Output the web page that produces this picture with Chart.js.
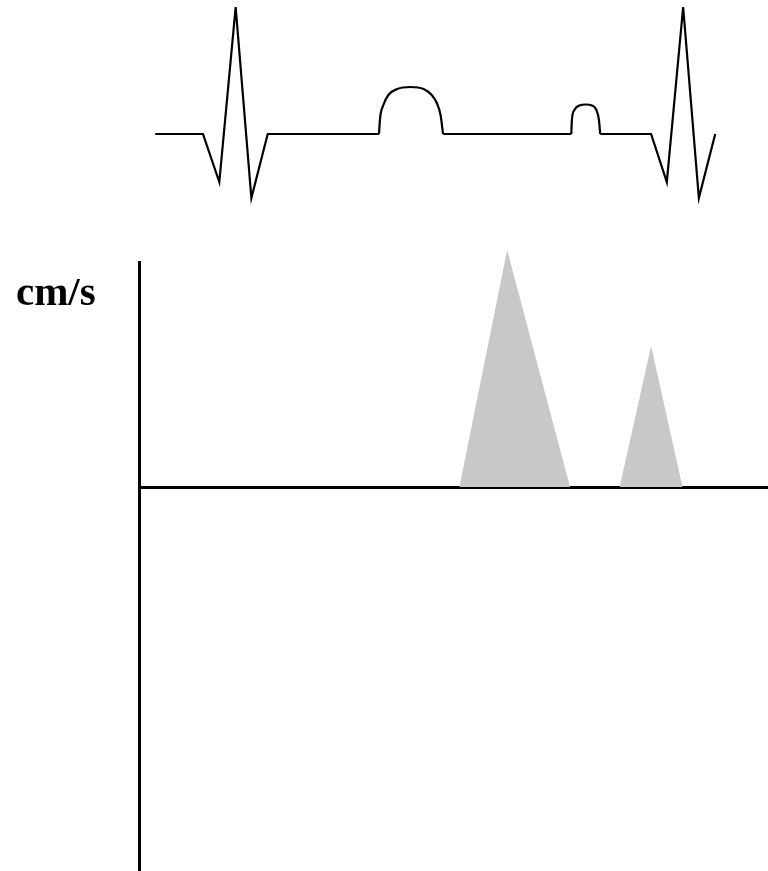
<!DOCTYPE html>
<html>
<head>
<meta charset="utf-8">
<title>ECG and mitral inflow</title>
<script src="https://cdn.jsdelivr.net/npm/chart.js@4"></script>
<style>
    html, body { margin: 0; padding: 0; background: #ffffff; }
    #dopplerChart { display: block; }
</style>
</head>
<body>
<canvas id="dopplerChart" width="768" height="871"></canvas>
<script>
// ECG trace (time in ms, voltage in mV); null marks where the rounded waves take over
const ecgTimes  = [25, 101, 127, 153, 178, 204, 381, 432, 483, 687, 710, 733, 814, 839, 865, 890, 916];
const ecgValues = [0, 0, -0.48, 1.27, -0.64, 0, 0, null, 0, 0, null, 0, 0, -0.48, 1.27, -0.64, 0];

// T wave (rounded)
const tWaveTimes  = [381, 383, 388, 396, 410, 431, 452, 465, 473, 479, 483];
const tWaveValues = [0, 0.17, 0.29, 0.39, 0.45, 0.47, 0.45, 0.39, 0.31, 0.19, 0];

// P wave (rounded)
const pWaveTimes  = [687, 688, 692, 700, 710, 720, 727, 731, 733];
const pWaveValues = [0, 0.14, 0.24, 0.285, 0.295, 0.285, 0.24, 0.14, 0];

// Doppler inflow (velocity in cm/s): E wave and A wave
const eWaveTimes      = [509, 585, 685];
const eWaveVelocities = [0, 79, 0];
const aWaveTimes      = [764, 814, 864];
const aWaveVelocities = [0, 47, 0];

const velocityUnit = 'cm/s';

function toPoints(xs, ys) {
    return xs.map((x, i) => ({ x: x, y: ys[i] }));
}

// Draws the unit label next to the velocity axis
const unitLabelPlugin = {
    id: 'unitLabel',
    afterDraw(chart) {
        const scale = chart.scales.vel;
        const ctx = chart.ctx;
        ctx.save();
        ctx.font = 'bold 41px "Liberation Serif", "Times New Roman", serif';
        ctx.fillStyle = '#000000';
        ctx.textBaseline = 'alphabetic';
        ctx.textAlign = 'left';
        ctx.fillText(velocityUnit, 16, scale.top + 43);
        ctx.restore();
    }
};

const traceStyle = {
    borderColor: '#000000',
    borderWidth: 2.2,
    pointRadius: 0,
    fill: false,
    yAxisID: 'ecg',
    clip: false
};

const waveFill = {
    borderWidth: 0,
    borderColor: 'rgba(0,0,0,0)',
    backgroundColor: '#c8c8c8',
    pointRadius: 0,
    fill: 'origin',
    tension: 0,
    yAxisID: 'vel',
    clip: false
};

new Chart(document.getElementById('dopplerChart'), {
    type: 'line',
    data: {
        datasets: [
            Object.assign({ label: 'ECG', data: toPoints(ecgTimes, ecgValues), tension: 0 }, traceStyle),
            Object.assign({ label: 'T', data: toPoints(tWaveTimes, tWaveValues), cubicInterpolationMode: 'monotone' }, traceStyle),
            Object.assign({ label: 'P', data: toPoints(pWaveTimes, pWaveValues), cubicInterpolationMode: 'monotone' }, traceStyle),
            Object.assign({ label: 'E', data: toPoints(eWaveTimes, eWaveVelocities) }, waveFill),
            Object.assign({ label: 'A', data: toPoints(aWaveTimes, aWaveVelocities) }, waveFill)
        ]
    },
    options: {
        responsive: false,
        animation: false,
        events: [],
        layout: {
            padding: { left: 131.5, right: 0, top: 0, bottom: 0 }
        },
        plugins: {
            legend: { display: false },
            tooltip: { enabled: false }
        },
        scales: {
            x: {
                type: 'linear',
                min: 0,
                max: 1000,
                display: false
            },
            ecg: {
                type: 'linear',
                position: 'left',
                stack: 'trace',
                stackWeight: 262,
                weight: 1,
                min: -1.28,
                max: 1.34,
                grid: { display: false },
                border: { display: false },
                ticks: { display: false }
            },
            vel: {
                type: 'linear',
                position: 'left',
                stack: 'trace',
                stackWeight: 609,
                weight: 0,
                min: -128,
                max: 75,
                ticks: { display: false, stepSize: 25 },
                grid: {
                    drawTicks: false,
                    lineWidth: 3,
                    color: (ctx) => (ctx.tick && ctx.tick.value === 0 ? '#000000' : 'rgba(0,0,0,0)')
                },
                border: { display: true, color: '#000000', width: 3 }
            }
        }
    },
    plugins: [unitLabelPlugin]
});
</script>
</body>
</html>
